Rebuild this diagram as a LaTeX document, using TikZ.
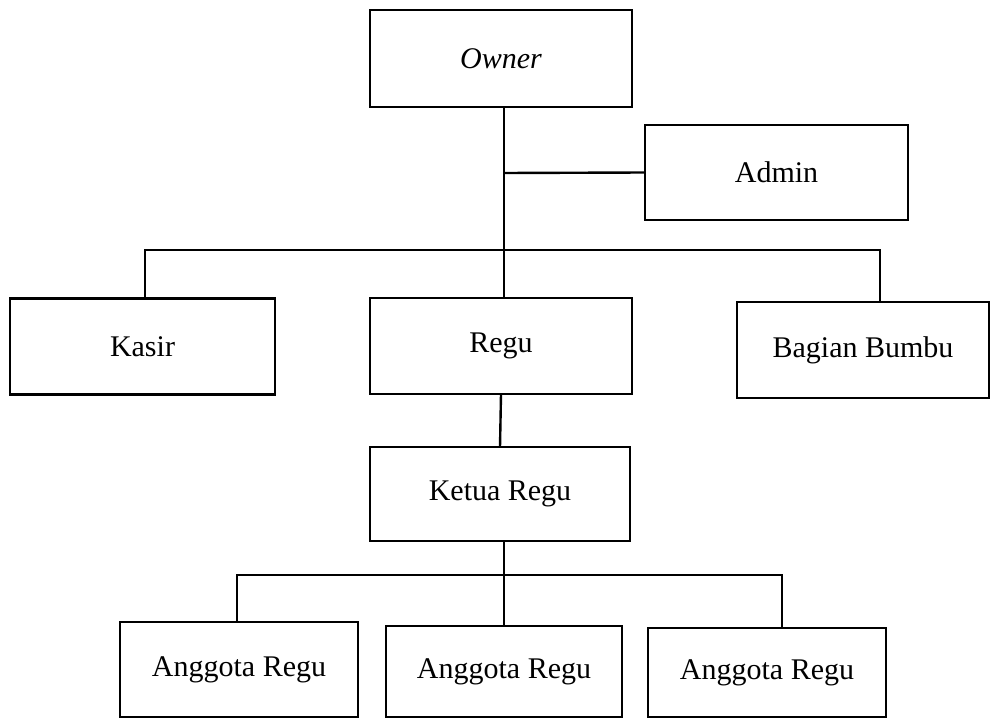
\documentclass[tikz,border=0pt]{standalone}
\usepackage{fontspec}
\setmainfont{Liberation Serif}
\begin{document}
\begin{tikzpicture}[x=1pt,y=-1pt,
  box/.style={draw,line width=2.6pt,inner sep=0pt,outer sep=0pt,font=\fontsize{30}{36}\selectfont},
  link/.style={line width=2.4pt}]
\useasboundingbox (0,0) rectangle (990,719);
\node[box,minimum width=262pt,minimum height=97pt] (owner) at (501,58.5) {\itshape Owner};
\node[box,minimum width=263pt,minimum height=95pt] (admin) at (776.5,172.5) {Admin};
\node[box,minimum width=265pt,minimum height=96pt] (kasir) at (142.5,346.5) {Kasir};
\node[box,minimum width=262pt,minimum height=96pt] (regu) at (501,346) {Regu};
\node[box,minimum width=252pt,minimum height=96pt] (bumbu) at (863,350) {Bagian Bumbu};
\node[box,minimum width=260pt,minimum height=94pt] (ketua) at (500,494) {Ketua Regu};
\node[box,minimum width=238pt,minimum height=95pt] (a1) at (239,669.5) {Anggota Regu};
\node[box,minimum width=236pt,minimum height=91pt] (a2) at (504,671.5) {Anggota Regu};
\node[box,minimum width=238pt,minimum height=89pt] (a3) at (767,672.5) {Anggota Regu};
\coordinate (jA) at (504,173);
\coordinate (busL) at (145,250);
\coordinate (busR) at (880,250);
\coordinate (botL) at (237,575);
\coordinate (botR) at (782,575);
\draw[link] (owner.south -| jA) -- (regu.north -| jA);
\draw[link] (jA) -- (admin.west);
\draw[link] (kasir.north -| busL) |- (busR) -- (bumbu.north -| busR);
\draw[link] (regu.south) -- (ketua.north);
\draw[link] (ketua.south -| a2.north) -- (a2.north);
\draw[link] (a1.north -| botL) |- (botR) -- (a3.north -| botR);
\end{tikzpicture}
\end{document}
